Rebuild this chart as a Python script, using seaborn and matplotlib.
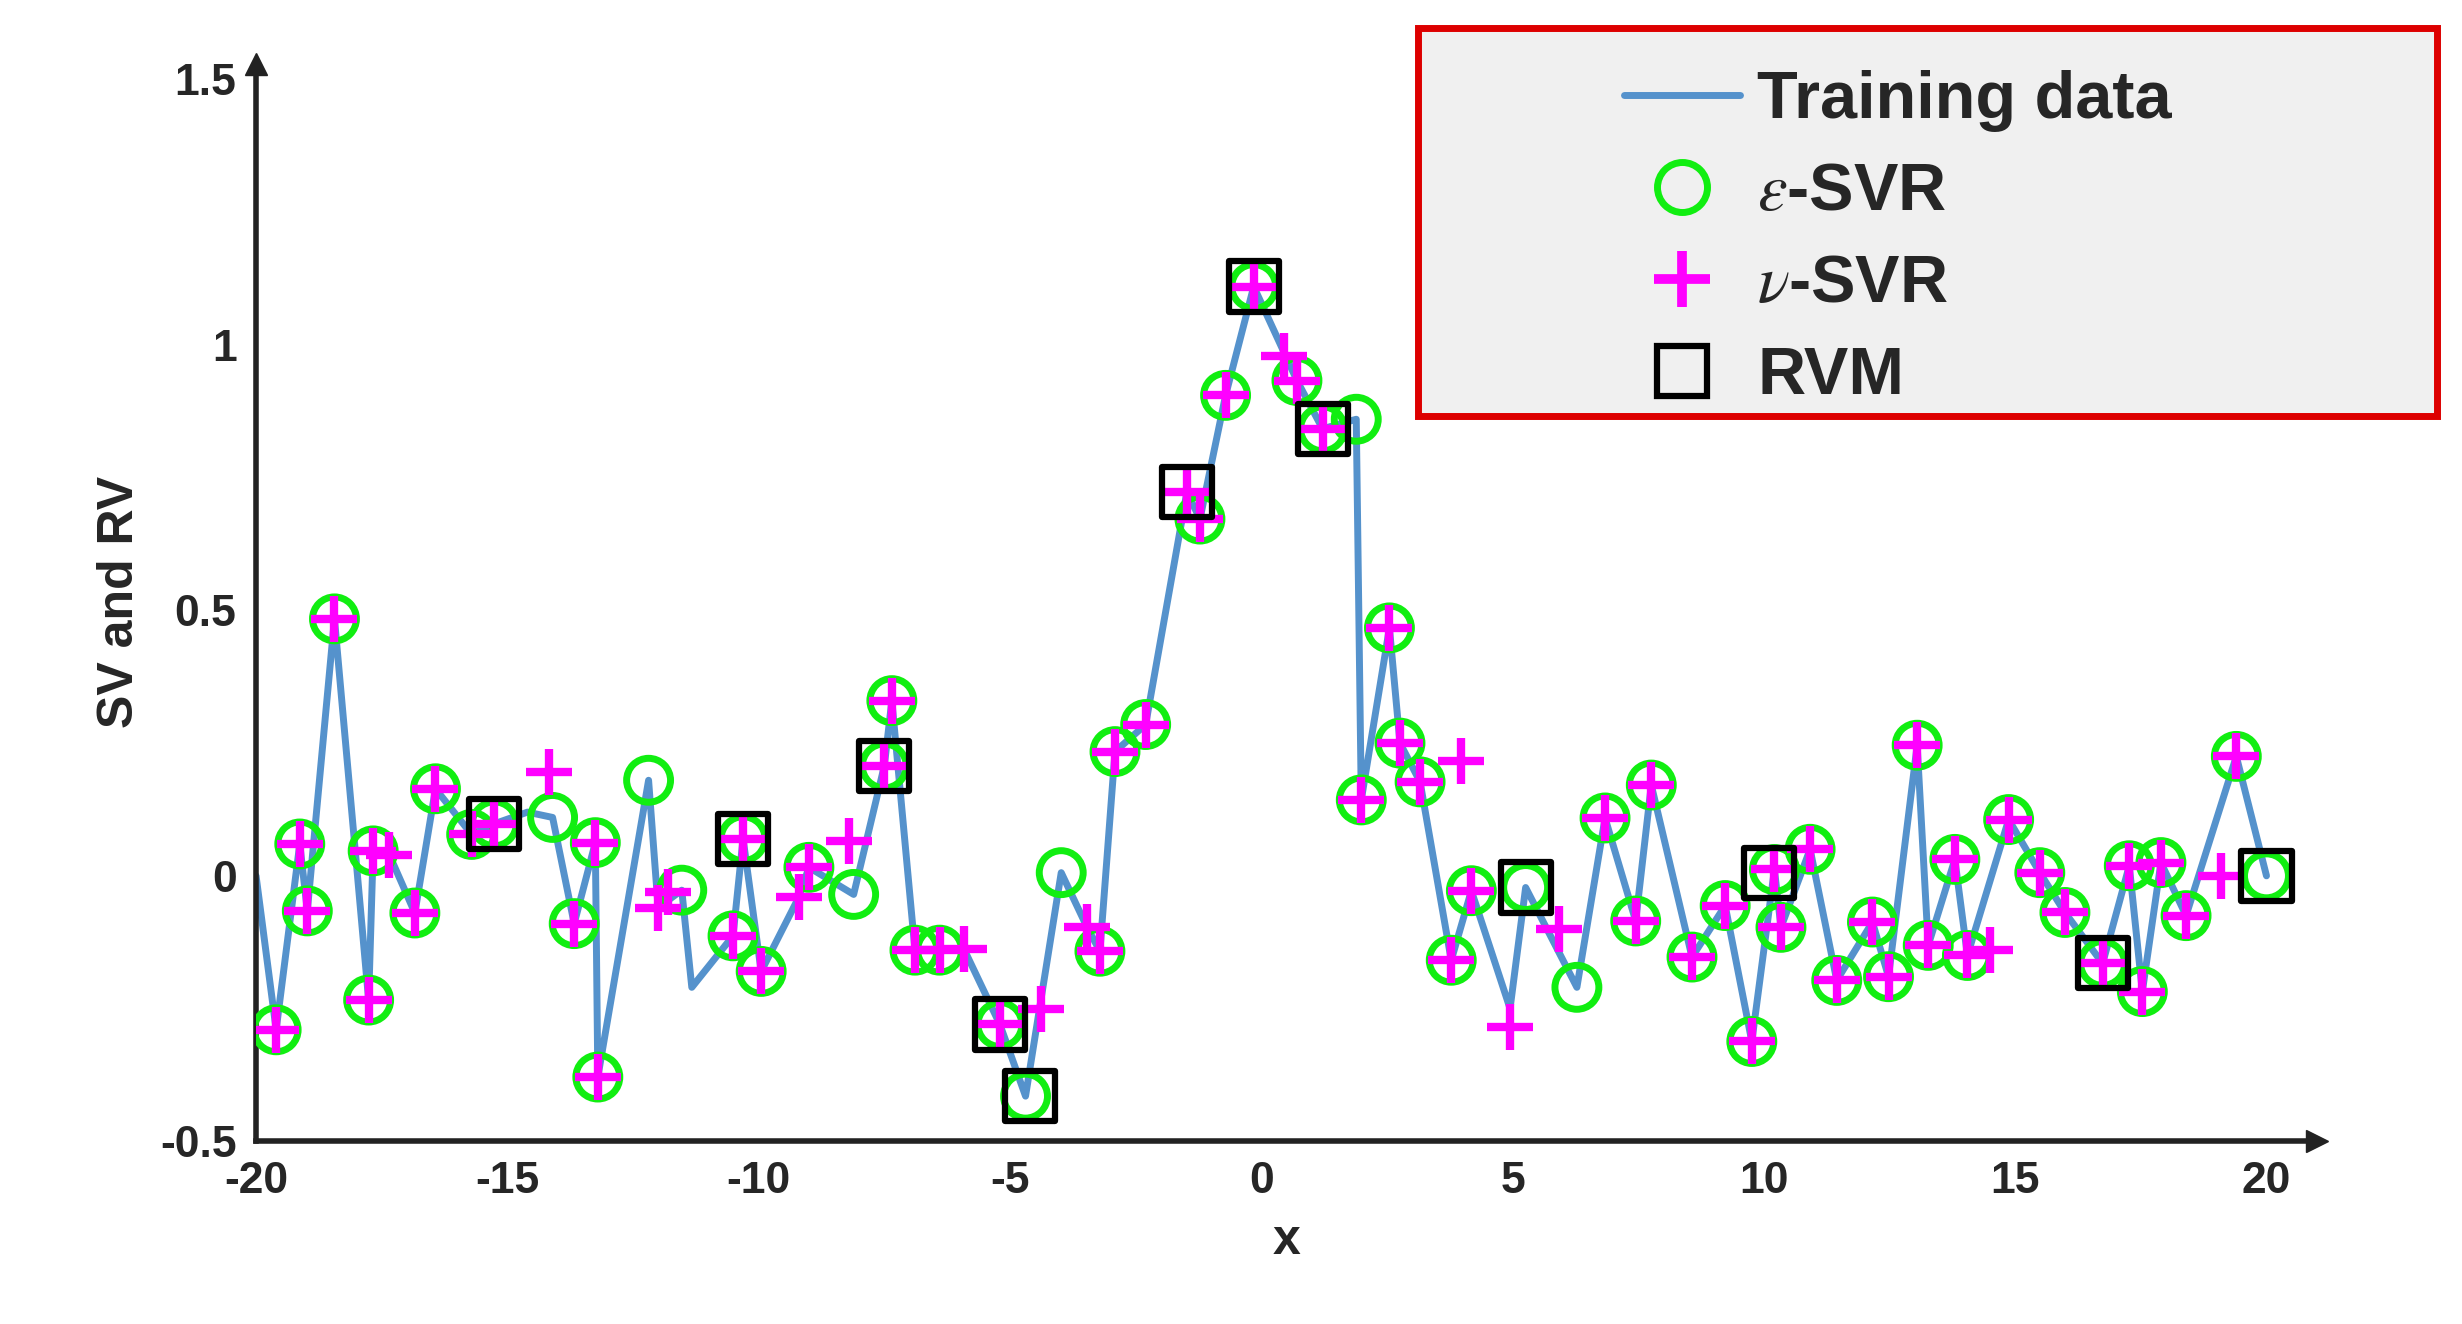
import numpy as np
import pandas as pd
import seaborn as sns
import matplotlib
matplotlib.use('Agg')
import matplotlib.pyplot as plt
from matplotlib.lines import Line2D
from matplotlib.patches import Rectangle

# training data (line vertices)
train_x = [-20.0, -19.6, -19.13, -18.98, -18.44, -17.76, -17.67, -17.35, -16.84, -16.43,
           -15.71, -15.26, -14.6, -14.1, -13.67, -13.25, -13.2, -12.19, -12.0, -11.53,
           -11.33, -10.51, -10.31, -9.95, -9.2, -9.0, -8.11, -7.5, -7.35, -6.89,
           -6.4, -5.92, -5.2, -4.69, -3.98, -3.47, -3.21, -2.91, -2.3, -1.48,
           -1.22, -0.71, -0.15, 0.71, 1.22, 1.89, 1.99, 2.55, 2.76, 3.16,
           3.78, 4.18, 4.95, 5.26, 6.28, 6.84, 7.45, 7.76, 8.57, 9.23,
           9.76, 10.21, 10.34, 10.92, 11.45, 12.16, 12.48, 13.05, 13.27, 13.8,
           14.05, 14.87, 15.49, 15.99, 16.74, 17.27, 17.53, 17.9, 18.4, 19.4, 20.0]
train_y = [0.0, -0.29, 0.06, -0.066, 0.484, -0.234, 0.047, 0.04, -0.07, 0.164,
           0.078, 0.098, 0.12, 0.11, -0.09, 0.0625, -0.379, 0.18, -0.06, -0.027,
           -0.21, -0.113, 0.07, -0.18, -0.04, 0.016, -0.035, 0.207, 0.33, -0.14,
           -0.14, -0.137, -0.28, -0.415, 0.006, -0.096, -0.142, 0.234, 0.285, 0.723,
           0.672, 0.905, 1.11, 0.933, 0.842, 0.86, 0.143, 0.467, 0.25, 0.177,
           -0.159, -0.028, -0.25, -0.022, -0.21, 0.109, -0.085, 0.171, -0.153, -0.056,
           -0.312, 0.012, -0.097, 0.05, -0.197, -0.087, -0.19, 0.246, -0.131, 0.031,
           -0.15, 0.106, 0.006, -0.069, -0.165, 0.019, -0.218, 0.025, -0.075, 0.225, 0.0]

# epsilon-SVR support vectors
eps_x = [-19.6, -19.13, -18.98, -18.44, -17.76, -17.67, -16.84, -16.43, -15.71, -15.26,
         -14.1, -13.67, -13.25, -13.2, -12.19, -11.53, -10.51, -10.31, -9.95, -9.0,
         -8.11, -7.5, -7.35, -6.89, -6.4, -5.2, -4.69, -3.98, -3.21, -2.91,
         -2.3, -1.22, -0.71, -0.15, 0.71, 1.22, 1.89, 1.99, 2.55, 2.76,
         3.16, 3.78, 4.18, 5.26, 6.28, 6.84, 7.45, 7.76, 8.57, 9.23,
         9.76, 10.21, 10.34, 10.92, 11.45, 12.16, 12.48, 13.05, 13.27, 13.8,
         14.05, 14.87, 15.49, 15.99, 16.74, 17.27, 17.53, 17.9, 18.4, 19.4, 20.0]
eps_y = [-0.29, 0.06, -0.066, 0.484, -0.234, 0.047, -0.07, 0.164, 0.078, 0.098,
         0.11, -0.09, 0.0625, -0.379, 0.18, -0.027, -0.113, 0.07, -0.18, 0.016,
         -0.035, 0.207, 0.33, -0.14, -0.14, -0.28, -0.415, 0.006, -0.142, 0.234,
         0.285, 0.672, 0.905, 1.11, 0.933, 0.842, 0.86, 0.143, 0.467, 0.25,
         0.177, -0.159, -0.028, -0.022, -0.21, 0.109, -0.085, 0.171, -0.153, -0.056,
         -0.312, 0.012, -0.097, 0.05, -0.197, -0.087, -0.19, 0.246, -0.131, 0.031,
         -0.15, 0.106, 0.006, -0.069, -0.165, 0.019, -0.218, 0.025, -0.075, 0.225, 0.0]

# nu-SVR support vectors
nu_x = [-19.6, -19.13, -18.98, -18.44, -17.76, -17.67, -17.35, -16.84, -16.43, -15.71,
        -15.26, -14.18, -13.67, -13.25, -13.2, -12.0, -11.8, -10.51, -10.31, -9.95,
        -9.2, -9.0, -8.21, -7.5, -7.35, -6.89, -6.4, -5.92, -5.2, -4.39,
        -3.47, -3.21, -2.91, -2.3, -1.48, -1.22, -0.71, -0.15, 0.46, 0.71,
        1.22, 1.99, 2.55, 2.76, 3.16, 3.98, 3.78, 4.18, 4.95, 5.92,
        6.84, 7.45, 7.76, 8.57, 9.23, 9.76, 10.21, 10.34, 10.92, 11.45,
        12.16, 12.48, 13.05, 13.27, 13.8, 14.05, 14.5, 14.87, 15.49, 15.99,
        16.74, 17.27, 17.53, 17.9, 18.4, 19.1, 19.4]
nu_y = [-0.29, 0.06, -0.066, 0.484, -0.234, 0.047, 0.04, -0.07, 0.164, 0.078,
        0.098, 0.195, -0.09, 0.0625, -0.379, -0.06, -0.03, -0.113, 0.07, -0.18,
        -0.04, 0.016, 0.066, 0.207, 0.33, -0.14, -0.14, -0.137, -0.28, -0.25,
        -0.096, -0.142, 0.234, 0.285, 0.723, 0.672, 0.905, 1.11, 0.979, 0.933,
        0.842, 0.143, 0.467, 0.25, 0.177, 0.217, -0.159, -0.028, -0.284, -0.1,
        0.109, -0.085, 0.171, -0.153, -0.056, -0.312, 0.012, -0.097, 0.05, -0.197,
        -0.087, -0.19, 0.246, -0.131, 0.031, -0.15, -0.14, 0.106, 0.006, -0.069,
        -0.165, 0.019, -0.218, 0.025, -0.075, 0.0, 0.225]

# RVM relevance vectors
rvm_x = [-15.26, -10.31, -7.5, -5.2, -4.6, -1.48, -0.15, 1.22, 5.26, 10.1, 16.74, 20.0]
rvm_y = [0.098, 0.07, 0.207, -0.28, -0.415, 0.723, 1.11, 0.842, -0.022, 0.006, -0.165, 0.0]

sns.set_style('white')
plt.rcParams['font.family'] = ['Liberation Sans', 'DejaVu Sans']
plt.rcParams['mathtext.fontset'] = 'stix'
plt.rcParams['axes.unicode_minus'] = False

fig = plt.figure(figsize=(24.62, 13.24), dpi=100)
ax = fig.add_axes([0.104, 0.138, 0.837, 0.814])

line_c = '#5592cc'
sns.lineplot(x=train_x, y=train_y, ax=ax, color=line_c, lw=5, sort=False, zorder=2)
sns.scatterplot(x=eps_x, y=eps_y, ax=ax, marker='o', s=1000, facecolors='none',
                edgecolor='#11ee11', linewidth=5, zorder=3)
sns.scatterplot(x=nu_x, y=nu_y, ax=ax, marker='+', s=1100, color='#ff00ff',
                linewidth=6, zorder=4)
sns.scatterplot(x=rvm_x, y=rvm_y, ax=ax, marker='s', s=1300, facecolors='none',
                edgecolor='black', linewidth=4.5, zorder=5)

ax.set_xlim(-20, 21)
ax.set_ylim(-0.5, 1.53)
ax.set_xticks([-20, -15, -10, -5, 0, 5, 10, 15, 20])
ax.set_yticks([-0.5, 0, 0.5, 1, 1.5])
ax.set_yticklabels(['-0.5', '0', '0.5', '1', '1.5'])
for s in ['top', 'right']:
    ax.spines[s].set_visible(False)
for s in ['left', 'bottom']:
    ax.spines[s].set_linewidth(4)
    ax.spines[s].set_color('#222222')
ax.plot(1, 0, '>', color='#222222', ms=16, transform=ax.transAxes, clip_on=False)
ax.plot(0, 1, '^', color='#222222', ms=16, transform=ax.transAxes, clip_on=False)
ax.tick_params(direction='in', length=14, width=4, labelsize=32, pad=14, color='#222222')
for lab in ax.get_xticklabels() + ax.get_yticklabels():
    lab.set_fontweight('bold')
ax.set_xlabel('x', fontsize=36, fontweight='bold', labelpad=12)
ax.set_ylabel('SV and RV', fontsize=36, fontweight='bold', labelpad=12)

# legend box (red frame, gray face)
fig.patches.append(Rectangle((0.576, 0.686), 0.414, 0.293, transform=fig.transFigure,
                             facecolor='#f0f0f0', edgecolor='#dd0000', lw=5, zorder=9))

handles = [
    Line2D([], [], color=line_c, lw=5),
    Line2D([], [], ls='', marker='o', ms=36, mfc='none', mec='#11ee11', mew=5),
    Line2D([], [], ls='', marker='+', ms=40, color='#ff00ff', mew=7),
    Line2D([], [], ls='', marker='s', ms=36, mfc='none', mec='black', mew=4.5),
]
labels = ['Training data', r'$\epsilon$-SVR', r'$\nu$-SVR', 'RVM']
leg = fig.legend(handles, labels, loc='upper left', bbox_to_anchor=(0.646, 0.972),
                 frameon=False, prop={'weight': 'bold', 'size': 48}, handlelength=1.75,
                 labelspacing=0.45, borderpad=0, handletextpad=0.25)
leg.set_zorder(10)

fig.savefig('out.png', dpi=100, facecolor='white')
